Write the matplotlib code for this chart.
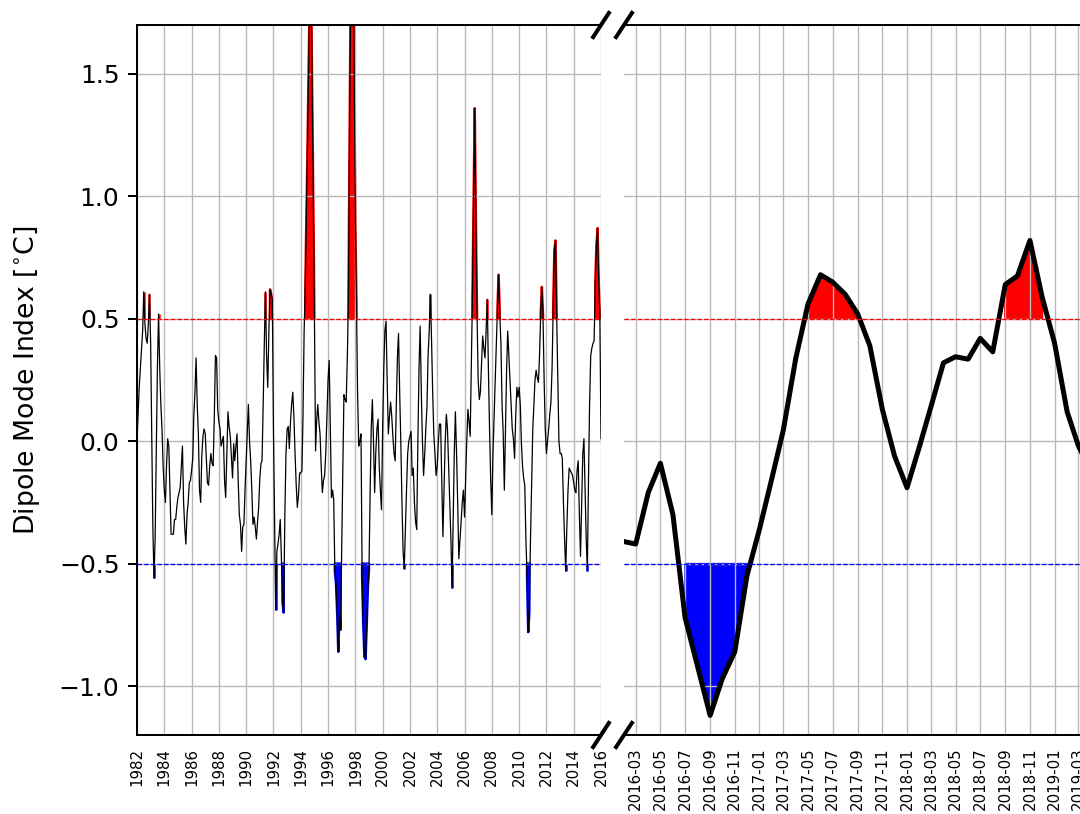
import matplotlib.pyplot as plt
import matplotlib.dates as mdates
import numpy as np
import pandas as pd

# monthly DMI, 1982-01 .. 2016-01
dmi_hist = np.array([
    0.00, 0.12, 0.22, 0.30, 0.38, 0.45, 0.61, 0.48, 0.42, 0.40, 0.48, 0.60,      # 1982
    0.40, 0.00, -0.35, -0.56, -0.40, -0.05, 0.30, 0.52, 0.30, 0.15, 0.05, -0.10,  # 1983
    -0.20, -0.25, -0.10, 0.01, -0.02, -0.20, -0.38, -0.38, -0.38, -0.32, -0.32, -0.27,
    -0.23, -0.21, -0.19, -0.10, -0.02, -0.25, -0.35, -0.42, -0.30, -0.25, -0.17, -0.16,
    -0.12, -0.07, 0.10, 0.20, 0.34, 0.15, 0.03, -0.20, -0.25, -0.06, 0.02, 0.05,
    0.03, -0.08, -0.17, -0.18, -0.10, -0.05, -0.09, -0.10, 0.10, 0.35, 0.34, 0.13,
    0.08, 0.05, -0.02, 0.00, 0.02, -0.16, -0.23, -0.05, 0.12, 0.06, 0.02, -0.06,
    -0.15, -0.01, -0.08, -0.02, 0.03, -0.16, -0.30, -0.34, -0.45, -0.35, -0.34, -0.20,
    -0.08, 0.05, 0.15, 0.00, -0.08, -0.20, -0.34, -0.31, -0.35, -0.40, -0.33, -0.27,  # 1990
    -0.15, -0.09, -0.08, 0.15, 0.40, 0.61, 0.35, 0.22, 0.45, 0.62, 0.60, 0.58,
    0.05, -0.35, -0.69, -0.45, -0.42, -0.38, -0.32, -0.48, -0.66, -0.70, -0.30, -0.05,
    0.05, 0.06, -0.03, 0.08, 0.15, 0.20, 0.10, -0.05, -0.18, -0.27, -0.22, -0.13,
    -0.13, -0.12, 0.10, 0.45, 0.62, 0.92, 1.22, 1.55, 1.85, 1.95, 1.45, 1.00,
    0.52, -0.04, 0.08, 0.15, 0.08, 0.03, -0.10, -0.21, -0.16, -0.14, -0.05, 0.10,
    0.25, 0.33, 0.05, -0.23, -0.20, -0.24, -0.53, -0.58, -0.70, -0.86, -0.70, -0.77,
    -0.45, -0.10, 0.19, 0.17, 0.16, 0.35, 0.60, 1.30, 1.90, 2.20, 2.10, 1.50,
    0.90, 0.55, 0.20, -0.02, 0.00, 0.03, -0.55, -0.75, -0.88, -0.89, -0.75, -0.60,
    -0.52, -0.20, 0.05, 0.17, 0.00, -0.21, -0.05, 0.05, 0.09, -0.10, -0.20, -0.28,
    0.05, 0.30, 0.45, 0.49, 0.25, 0.03, 0.10, 0.16, 0.10, 0.02, -0.05, -0.08,  # 2000
    0.15, 0.35, 0.44, 0.20, 0.00, -0.25, -0.45, -0.52, -0.35, -0.20, -0.05, 0.00,
    0.02, 0.04, -0.14, -0.11, -0.25, -0.33, -0.36, 0.00, 0.30, 0.47, 0.20, 0.00,
    -0.14, -0.05, 0.05, 0.14, 0.35, 0.45, 0.60, 0.42, 0.20, 0.03, -0.05, -0.14,
    -0.10, 0.00, 0.07, 0.07, -0.15, -0.39, -0.20, 0.00, 0.11, 0.05, -0.10, -0.25,
    -0.40, -0.60, -0.35, -0.05, 0.12, -0.05, -0.25, -0.48, -0.40, -0.33, -0.25, -0.20,
    -0.31, -0.15, 0.00, 0.13, 0.08, 0.02, 0.30, 0.60, 1.00, 1.36, 0.90, 0.52,
    0.25, 0.17, 0.20, 0.32, 0.43, 0.38, 0.34, 0.45, 0.58, 0.30, 0.05, -0.15,
    -0.30, -0.05, 0.10, 0.25, 0.40, 0.55, 0.68, 0.52, 0.40, 0.15, 0.03, -0.20,
    0.05, 0.30, 0.45, 0.35, 0.25, 0.15, 0.05, 0.01, -0.07, 0.10, 0.22, 0.18,
    0.22, 0.15, 0.00, -0.10, -0.15, -0.18, -0.40, -0.55, -0.78, -0.70, -0.40, -0.17,  # 2010
    0.05, 0.15, 0.25, 0.29, 0.26, 0.24, 0.35, 0.52, 0.63, 0.52, 0.25, 0.05,
    -0.05, 0.00, 0.05, 0.11, 0.16, 0.30, 0.55, 0.78, 0.82, 0.52, 0.25, 0.00,
    -0.05, -0.05, -0.07, -0.25, -0.40, -0.53, -0.35, -0.20, -0.11, -0.12, -0.13, -0.14,
    -0.17, -0.20, -0.21, -0.12, -0.08, -0.30, -0.47, -0.25, -0.05, 0.01, -0.20, -0.40,
    -0.53, -0.15, 0.15, 0.35, 0.38, 0.40, 0.41, 0.65, 0.80, 0.87, 0.65, 0.52,
    0.01,
])

# monthly DMI, 2016-02 .. 2019-04
dmi_recent = np.array([
    -0.41, -0.42, -0.21, -0.09, -0.30, -0.72, -0.92, -1.12, -0.97, -0.86, -0.55,
    -0.36, -0.15, 0.045, 0.34, 0.56, 0.68, 0.65, 0.60, 0.52, 0.39, 0.13, -0.06,
    -0.19, -0.02, 0.14, 0.32, 0.345, 0.335, 0.42, 0.365, 0.64, 0.675, 0.82, 0.59,
    0.40, 0.12, -0.02, -0.12,
])

hist_dates = pd.date_range("1982-01-01", periods=len(dmi_hist), freq="MS")
recent_dates = pd.date_range("2016-02-01", periods=len(dmi_recent), freq="MS")

threshold = 0.5

fig = plt.figure(figsize=(6.0, 814 / 180), dpi=180)
ax1 = fig.add_axes([137 / 1080, 79 / 814, 464 / 1080, 710 / 814])
ax2 = fig.add_axes([624 / 1080, 79 / 814, 467 / 1080, 710 / 814])


def draw_panel(ax, dates, vals, lw):
    ax.plot(dates, vals, color="k", lw=lw)
    ax.fill_between(dates, threshold, vals, where=vals >= threshold, color="r")
    ax.fill_between(dates, -threshold, vals, where=vals <= -threshold, color="b")
    ax.axhline(threshold, color="r", ls="--", lw=0.5)
    ax.axhline(-threshold, color="b", ls="--", lw=0.5)
    ax.set_ylim(-1.2, 1.7)
    ax.grid(True, color="#b8b8b8", lw=0.55)
    ax.tick_params(axis="x", length=0, labelsize=6, labelrotation=90, pad=5)


draw_panel(ax1, hist_dates, dmi_hist, 0.5)
draw_panel(ax2, recent_dates, dmi_recent, 2)

ax1.set_xlim(pd.Timestamp("1982-01-01"), pd.Timestamp("2016-01-01"))
ax1.xaxis.set_major_locator(mdates.YearLocator(2))
ax1.xaxis.set_major_formatter(mdates.DateFormatter("%Y"))
ax1.set_ylabel(r"Dipole Mode Index [$^{\circ}$C]", fontsize=10.7, labelpad=6.5)
ax1.spines["right"].set_visible(False)

ax2.set_xlim(pd.Timestamp("2016-02-01"), pd.Timestamp("2019-04-01"))
ax2.xaxis.set_major_locator(mdates.MonthLocator(bymonth=[1, 3, 5, 7, 9, 11]))
ax2.xaxis.set_major_formatter(mdates.DateFormatter("%Y-%m"))
ax2.spines["left"].set_visible(False)
ax2.tick_params(axis="y", left=False, labelleft=False)

# broken-axis marks
d = 0.017
kw = dict(color="k", clip_on=False, lw=1.6)
ax1.plot((1 - d, 1 + d), (-d, d), transform=ax1.transAxes, **kw)
ax1.plot((1 - d, 1 + d), (1 - d, 1 + d), transform=ax1.transAxes, **kw)
ax2.plot((-d, d), (-d, d), transform=ax2.transAxes, **kw)
ax2.plot((-d, d), (1 - d, 1 + d), transform=ax2.transAxes, **kw)

fig.savefig("out.png", dpi=180)
